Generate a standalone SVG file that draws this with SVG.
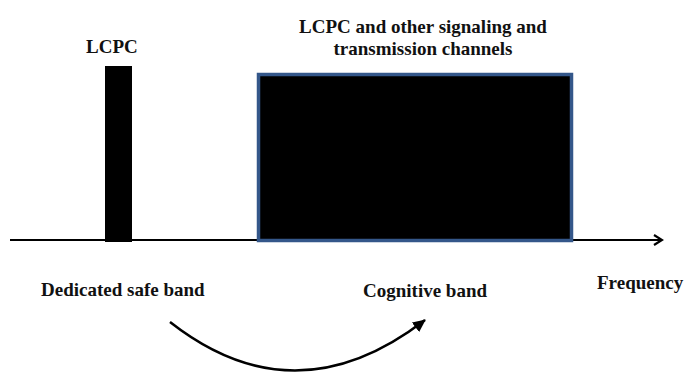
<svg xmlns="http://www.w3.org/2000/svg" width="687" height="374" viewBox="0 0 687 374">
<style>
text{font-family:'Liberation Serif','Times New Roman',serif;font-weight:bold;font-size:19px;fill:#111}
</style>
<defs>
<marker id="ah" markerWidth="12" markerHeight="12" refX="10" refY="6" orient="auto" markerUnits="userSpaceOnUse">
<path d="M2,1 L10,6 L2,11" fill="none" stroke="#000" stroke-width="2.2"/>
</marker>
<marker id="ah2" markerWidth="14" markerHeight="12" refX="12" refY="6" orient="auto" markerUnits="userSpaceOnUse">
<path d="M0,0 L13,6 L0,12 Z" fill="#000"/>
</marker>
</defs>
<rect width="687" height="374" fill="#fff"/>
<g id="connectors">
<line x1="10" y1="240" x2="662" y2="240" stroke="#000" stroke-width="2" marker-end="url(#ah)"/>
<path d="M170,322 Q295,420 425,320" fill="none" stroke="#000" stroke-width="2.5" marker-end="url(#ah2)"/>
</g>
<g id="lcpc-bar">
<rect x="105" y="66" width="27" height="176" fill="#000"/>
<text x="86" y="53">LCPC</text>
</g>
<g id="cognitive-block">
<rect x="258.5" y="74.5" width="313" height="166" fill="#000" stroke="#34578a" stroke-width="3.5"/>
<text x="423" y="33" text-anchor="middle">LCPC and other signaling and</text>
<text x="423" y="55" text-anchor="middle">transmission channels</text>
</g>
<g id="labels">
<text x="41" y="296">Dedicated safe band</text>
<text x="363" y="297">Cognitive band</text>
<text x="597" y="289">Frequency</text>
</g>
</svg>
